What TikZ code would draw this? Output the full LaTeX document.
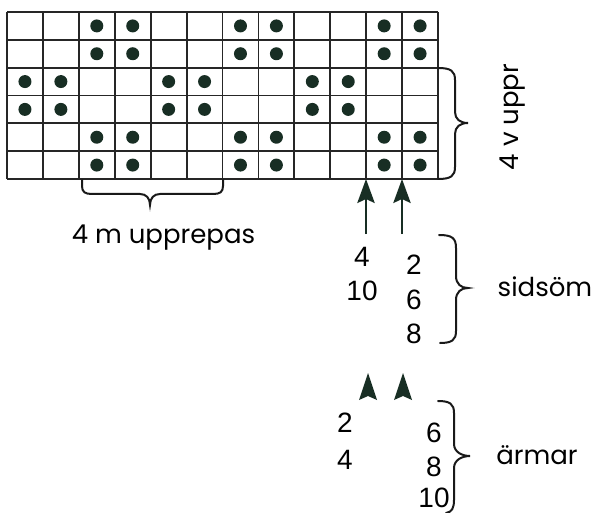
\documentclass[tikz,border=0pt]{standalone}
\usepackage{fontspec}
\setmainfont{Liberation Sans}
\newfontfamily\wordfont{Poppins}
\usetikzlibrary{arrows.meta}

\definecolor{inkgreen}{RGB}{24,46,36}
\tikzset{every picture/.style={line width=0.75pt}}
\tikzset{
  gridline/.style={line width=1.4pt, draw=black!85},
  bracestroke/.style={line width=1.5pt, draw=black!90, line cap=round},
  numtext/.style={font=\fontsize{21}{24}\selectfont, inner sep=0pt},
  wordtext/.style={font=\wordfont\fontsize{19.5}{23}\selectfont, inner sep=0pt},
  uparrow/.style={line width=1.6pt, draw=inkgreen, -{Stealth[length=18pt,width=13pt,inset=3pt]}}
}

\begin{document}
\begin{tikzpicture}[x=0.75pt,y=0.75pt,yscale=-1,xscale=1]
\useasboundingbox (0,0) rectangle (595,513);

%Shape: Grid 12 x 6
\foreach \i in {0,...,12} {\draw[gridline] ({7+35.92*\i},12) -- ({7+35.92*\i},179);}
\foreach \j in {0,...,6} {\draw[gridline] (7,{12+27.83*\j}) -- (438,{12+27.83*\j});}

%Dots
\foreach \r in {1,2,5,6} \foreach \c in {3,4,7,8,11,12}
  {\fill[inkgreen] ({7+35.92*(\c-0.5)},{12+27.83*(\r-0.5)}) circle (6.5);}
\foreach \r in {3,4} \foreach \c in {1,2,5,6,9,10}
  {\fill[inkgreen] ({7+35.92*(\c-0.5)},{12+27.83*(\r-0.5)}) circle (6.5);}

%Curve Lines: brace under the repeat
\draw[bracestroke] (82,180) -- (82,186) .. controls (82,192) and (85,194) .. (92,194) -- (140,194) .. controls (146,194) and (150,198) .. (150,205) .. controls (150,198) and (154,194) .. (160,194) -- (213,194) .. controls (220,194) and (223,192) .. (223,186) -- (223,180) ;
\node[wordtext, anchor=base] (repeat) at (163.5,243) {4 m upprepas};

%Curve Lines: brace at the right of the grid
\draw[bracestroke] (438,68) .. controls (451,68) and (455,71) .. (455,80) -- (455,112) .. controls (455,119) and (460,123) .. (468,123) .. controls (460,123) and (455,127) .. (455,134) -- (455,167) .. controls (455,176) and (451,179) .. (438,179) ;
\node[wordtext, rotate=90, anchor=base] (rows) at (518,117) {4 v uppr};

%Side seam
\node[numtext] (s4) at (362,257) {4};
\node[numtext] (s10) at (362,291) {10};
\node[numtext] (s2) at (414,265) {2};
\node[numtext] (s6) at (414,300) {6};
\node[numtext] (s8) at (414,334) {8};
\coordinate (tipA) at (366,179);
\coordinate (tipB) at (402,179);
\coordinate (tailA) at (366,234);
\coordinate (tailB) at (402,234);
\draw[uparrow] (tailA) -- (tipA) ;
\draw[uparrow] (tailB) -- (tipB) ;
\draw[bracestroke] (439,235) .. controls (452,235) and (456,238) .. (456,248) -- (456,276) .. controls (456,284) and (461,288) .. (468,288) .. controls (461,288) and (456,292) .. (456,300) -- (456,331) .. controls (456,340) and (452,343) .. (440,343) ;
\node[wordtext, anchor=base] (seam) at (545,296) {sidsöm};

%Sleeves
\fill[inkgreen] (368,373) -- (377,400) -- (368,396) -- (359,400) -- cycle ;
\fill[inkgreen] (403,373) -- (412,400) -- (403,396) -- (394,400) -- cycle ;
\node[numtext] (a2) at (345,423) {2};
\node[numtext] (a4) at (345,460) {4};
\node[numtext] (a6) at (434,433) {6};
\node[numtext] (a8) at (434,467) {8};
\node[numtext] (a10) at (434,498) {10};
\draw[bracestroke] (438,401) .. controls (450,401) and (454,404) .. (454,413) -- (454,444) .. controls (454,452) and (462,456) .. (470,456) .. controls (462,456) and (454,460) .. (454,468) -- (454,500) .. controls (454,508) and (452,512) .. (446,513) ;
\node[wordtext, anchor=base] (sleeve) at (537,464) {ärmar};

\end{tikzpicture}
\end{document}
